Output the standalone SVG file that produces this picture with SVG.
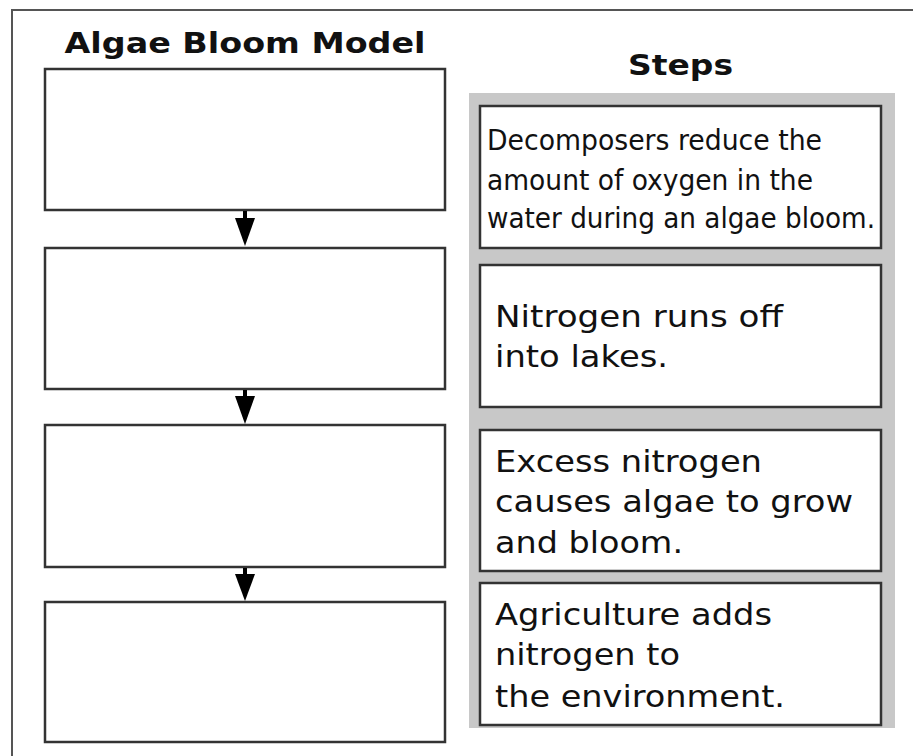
<svg xmlns="http://www.w3.org/2000/svg" width="913" height="756" viewBox="0 0 913 756">
<style>
.frame{fill:none;stroke:#555;stroke-width:2}
.box{fill:#fff;stroke:#333;stroke-width:2.5}
.panel{fill:#c8c8c8}
.title{font-family:"DejaVu Sans",Verdana,sans-serif;font-weight:bold;font-size:29px;fill:#111}
.t{font-family:"DejaVu Sans",Verdana,sans-serif;font-size:30px;fill:#111}
.tc{font-family:"DejaVu Sans Condensed","DejaVu Sans",sans-serif;font-stretch:condensed;font-size:28px;fill:#111}
.conn{stroke:#000;stroke-width:4;fill:none}
.head{fill:#000}
</style>
<rect width="913" height="756" fill="#fff"/>
<path class="frame" d="M12,756 L12,10 L913,10"/>
<text class="title" x="245" y="53" text-anchor="middle" textLength="361" lengthAdjust="spacingAndGlyphs">Algae Bloom Model</text>
<text class="title" x="628" y="75" textLength="105" lengthAdjust="spacingAndGlyphs">Steps</text>
<g id="model1"><rect class="box" x="45" y="69" width="400" height="141"/></g>
<g id="model2"><rect class="box" x="45" y="248" width="400" height="141"/></g>
<g id="model3"><rect class="box" x="45" y="425" width="400" height="142"/></g>
<g id="model4"><rect class="box" x="45" y="602" width="400" height="140"/></g>
<g id="connectors">
<line class="conn" x1="245" y1="211" x2="245" y2="219"/>
<path class="head" d="M235,218 L255,218 L245,246 Z"/>
<line class="conn" x1="245" y1="390" x2="245" y2="397"/>
<path class="head" d="M235,396 L255,396 L245,424 Z"/>
<line class="conn" x1="245" y1="568" x2="245" y2="575"/>
<path class="head" d="M235,574 L255,574 L245,601 Z"/>
</g>
<rect class="panel" x="469" y="93" width="426" height="635"/>
<g id="stepA">
<rect class="box" x="480" y="106" width="401" height="142"/>
<text class="tc" x="487" y="150" textLength="335" lengthAdjust="spacingAndGlyphs">Decomposers reduce the</text>
<text class="tc" x="487" y="190" textLength="326" lengthAdjust="spacingAndGlyphs">amount of oxygen in the</text>
<text class="tc" x="487" y="228" textLength="388" lengthAdjust="spacingAndGlyphs">water during an algae bloom.</text>
</g>
<g id="stepB">
<rect class="box" x="480" y="265" width="401" height="142"/>
<text class="t" x="495" y="327" textLength="288" lengthAdjust="spacingAndGlyphs">Nitrogen runs off</text>
<text class="t" x="495" y="367" textLength="173" lengthAdjust="spacingAndGlyphs">into lakes.</text>
</g>
<g id="stepC">
<rect class="box" x="480" y="430" width="401" height="141"/>
<text class="t" x="495" y="472" textLength="267" lengthAdjust="spacingAndGlyphs">Excess nitrogen</text>
<text class="t" x="495" y="512" textLength="358" lengthAdjust="spacingAndGlyphs">causes algae to grow</text>
<text class="t" x="495" y="553" textLength="188" lengthAdjust="spacingAndGlyphs">and bloom.</text>
</g>
<g id="stepD">
<rect class="box" x="480" y="583" width="401" height="142"/>
<text class="t" x="495" y="625" textLength="277" lengthAdjust="spacingAndGlyphs">Agriculture adds</text>
<text class="t" x="495" y="665" textLength="185" lengthAdjust="spacingAndGlyphs">nitrogen to</text>
<text class="t" x="495" y="707" textLength="290" lengthAdjust="spacingAndGlyphs">the environment.</text>
</g>
</svg>
